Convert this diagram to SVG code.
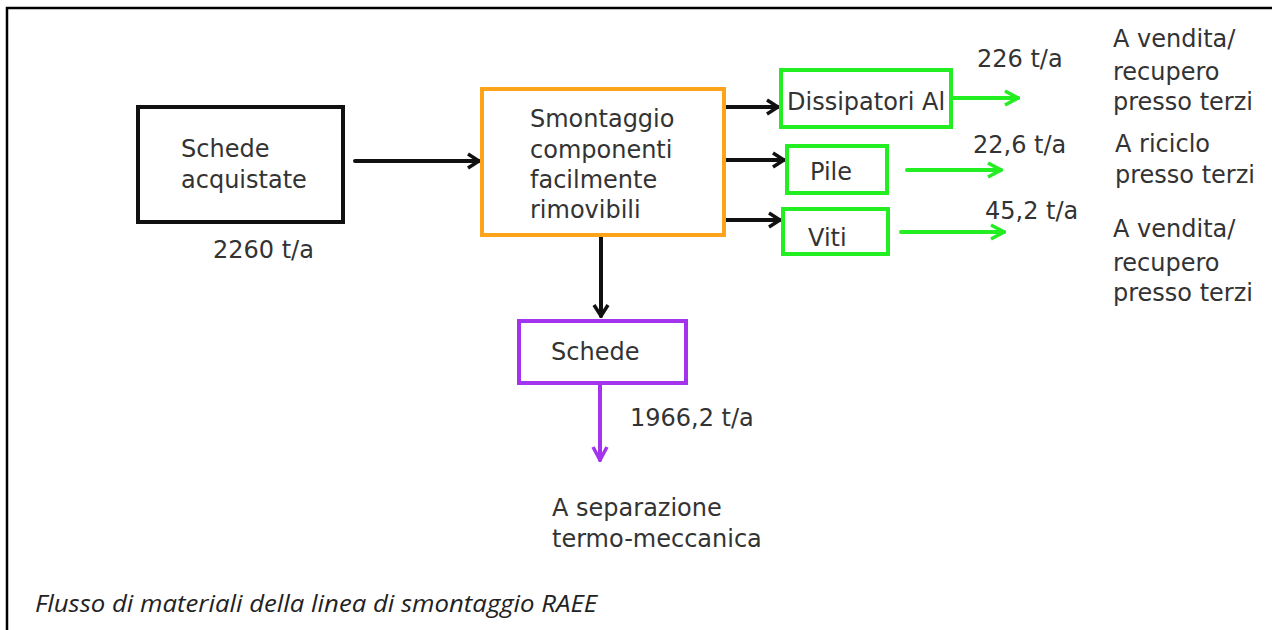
<svg xmlns="http://www.w3.org/2000/svg" width="1272" height="630" viewBox="0 0 1272 630">
  <defs>
    <style>
      .t { font-family: "DejaVu Sans", "Liberation Sans", sans-serif; font-size: 24px; fill: #333; }
      .cap { font-family: "Open Sans", "Liberation Sans", sans-serif; font-style: italic; font-size: 24px; fill: #222; }
      .box { fill: #fff; stroke-width: 4; }
      .blk { stroke: #111; }
      .org { stroke: #ffa31a; }
      .grn { stroke: #22ee22; }
      .pur { stroke: #a433ee; }
      .c { fill: none; stroke-width: 4; stroke-linecap: round; }
    </style>
    <marker id="ahB" viewBox="0 0 16 18" refX="14" refY="9" markerWidth="16" markerHeight="18" markerUnits="userSpaceOnUse" orient="auto">
      <path d="M3,2 L14,9 L3,16" fill="none" stroke="#111" stroke-width="3.5" stroke-linejoin="miter"/>
    </marker>
    <marker id="ahG" viewBox="0 0 18 18" refX="16" refY="9" markerWidth="18" markerHeight="18" markerUnits="userSpaceOnUse" orient="auto">
      <path d="M3,2 L16,9 L3,16" fill="none" stroke="#22ee22" stroke-width="3.5" stroke-linejoin="miter"/>
    </marker>
    <marker id="ahP" viewBox="0 0 18 18" refX="16" refY="9" markerWidth="18" markerHeight="18" markerUnits="userSpaceOnUse" orient="auto">
      <path d="M3,2 L16,9 L3,16" fill="none" stroke="#a433ee" stroke-width="3.5" stroke-linejoin="miter"/>
    </marker>
  </defs>

  <rect width="1272" height="630" fill="#fff"/>
  <!-- frame -->
  <path d="M7,630 L7,8 L1272,8" fill="none" stroke="#000" stroke-width="2.5"/>

  <g id="connectors">
    <path class="c" d="M355,161 L479,161" stroke="#111" marker-end="url(#ahB)"/>
    <path class="c" d="M726,107 L778,107" stroke="#111" marker-end="url(#ahB)"/>
    <path class="c" d="M726,160 L784,160" stroke="#111" marker-end="url(#ahB)"/>
    <path class="c" d="M726,220 L780,220" stroke="#111" marker-end="url(#ahB)"/>
    <path class="c" d="M601,237 L601,316" stroke="#111" marker-end="url(#ahB)"/>
    <path class="c" d="M953,98 L1018,98" stroke="#22ee22" marker-end="url(#ahG)"/>
    <path class="c" d="M907,170 L1001,170" stroke="#22ee22" marker-end="url(#ahG)"/>
    <path class="c" d="M901,232 L1004,232" stroke="#22ee22" marker-end="url(#ahG)"/>
    <path class="c" d="M600,385 L600,460" stroke="#a433ee" marker-end="url(#ahP)"/>
  </g>

  <g id="schede-acquistate">
    <rect class="box blk" x="138" y="107" width="205" height="115"/>
    <text class="t" x="181" y="157">Schede</text>
    <text class="t" x="181" y="188">acquistate</text>
    <text class="t" x="213" y="258">2260 t/a</text>
  </g>

  <g id="smontaggio">
    <rect class="box org" x="482" y="89" width="242" height="146"/>
    <text class="t" x="530" y="127">Smontaggio</text>
    <text class="t" x="530" y="158">componenti</text>
    <text class="t" x="530" y="188">facilmente</text>
    <text class="t" x="530" y="218">rimovibili</text>
  </g>

  <g id="dissipatori">
    <rect class="box grn" x="781" y="70" width="170" height="57"/>
    <text class="t" x="787" y="110">Dissipatori Al</text>
    <text class="t" x="977" y="67">226 t/a</text>
    <text class="t" x="1113" y="47">A vendita/</text>
    <text class="t" x="1113" y="80">recupero</text>
    <text class="t" x="1113" y="110">presso terzi</text>
  </g>

  <g id="pile">
    <rect class="box grn" x="787" y="146" width="100" height="47"/>
    <text class="t" x="810" y="180">Pile</text>
    <text class="t" x="973" y="153">22,6 t/a</text>
    <text class="t" x="1115" y="152">A riciclo</text>
    <text class="t" x="1115" y="183">presso terzi</text>
  </g>

  <g id="viti">
    <rect class="box grn" x="783" y="209" width="105" height="45"/>
    <text class="t" x="808" y="246">Viti</text>
    <text class="t" x="985" y="219">45,2 t/a</text>
    <text class="t" x="1113" y="237">A vendita/</text>
    <text class="t" x="1113" y="271">recupero</text>
    <text class="t" x="1113" y="301">presso terzi</text>
  </g>

  <g id="schede">
    <rect class="box pur" x="519" y="321" width="167" height="62"/>
    <text class="t" x="551" y="360">Schede</text>
    <text class="t" x="630" y="426">1966,2 t/a</text>
    <text class="t" x="552" y="516">A separazione</text>
    <text class="t" x="552" y="547">termo-meccanica</text>
  </g>

  <text class="cap" x="35" y="612" textLength="562" lengthAdjust="spacingAndGlyphs">Flusso di materiali della linea di smontaggio RAEE</text>
</svg>
